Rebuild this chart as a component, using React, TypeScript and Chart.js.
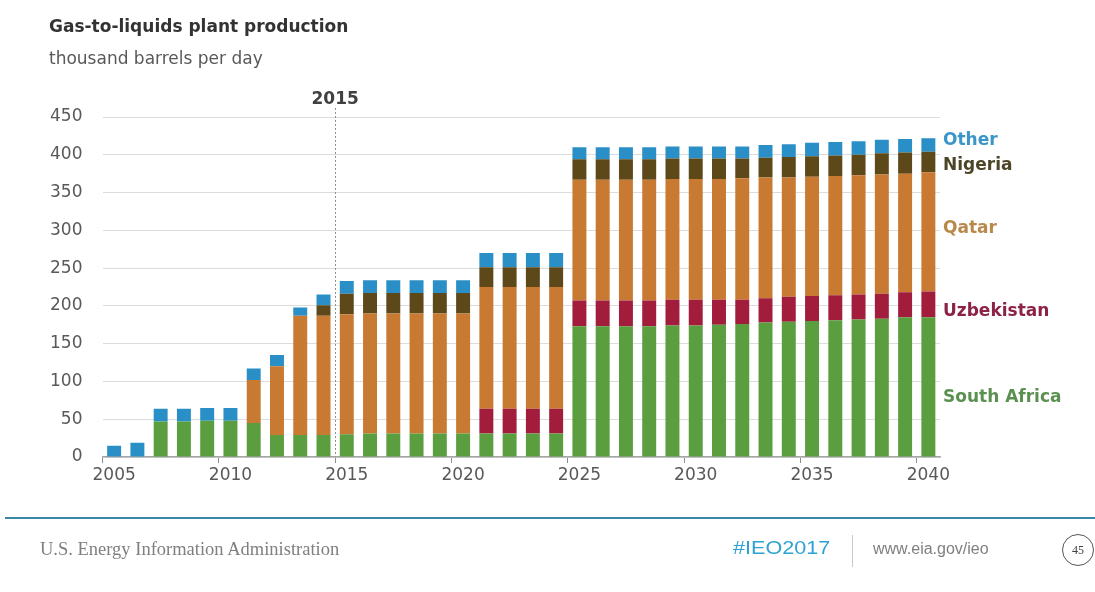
import React, { useEffect, useRef } from "react";
import { Chart, registerables } from "chart.js";

Chart.register(...registerables);

const years = [
  "2005", "2006", "2007", "2008", "2009", "2010", "2011", "2012", "2013", "2014",
  "2015", "2016", "2017", "2018", "2019", "2020", "2021", "2022", "2023", "2024",
  "2025", "2026", "2027", "2028", "2029", "2030", "2031", "2032", "2033", "2034",
  "2035", "2036", "2037", "2038", "2039", "2040",
];

const southAfrica = [
  0, 0, 47, 47, 48, 48, 45, 29, 29, 29, 30, 31, 31, 31, 31, 31, 31, 31, 31, 31,
  173, 173, 173, 173, 174, 174, 175, 176, 178, 179, 180, 181, 182, 183, 185, 185,
];
const uzbekistan = [
  0, 0, 0, 0, 0, 0, 0, 0, 0, 0, 0, 0, 0, 0, 0, 0, 33, 33, 33, 33,
  34, 34, 34, 34, 34, 34, 33, 32, 32, 33, 33, 33, 33, 33, 33, 34,
];
const qatar = [
  0, 0, 0, 0, 0, 0, 57, 91, 158, 158, 159, 159, 159, 159, 159, 159, 161, 161, 161, 161,
  160, 160, 160, 160, 160, 160, 160, 161, 160, 158, 158, 158, 158, 158, 157, 158,
];
const nigeria = [
  0, 0, 0, 0, 0, 0, 0, 0, 0, 14, 27, 27, 27, 27, 27, 27, 26, 26, 26, 26,
  27, 27, 27, 27, 27, 27, 27, 26, 26, 27, 27, 27, 27, 28, 28, 27,
];
const other = [
  15, 19, 17, 17, 17, 17, 15, 15, 11, 14, 17, 17, 17, 17, 17, 17, 19, 19, 19, 19,
  16, 16, 16, 16, 16, 16, 16, 16, 17, 17, 18, 18, 18, 18, 18, 18,
];

const yTicks = [0, 50, 100, 150, 200, 250, 300, 350, 400, 450];
const markerYear = "2015";

const seriesNames = ["South Africa", "Uzbekistan", "Qatar", "Nigeria", "Other"];
const seriesValues = [southAfrica, uzbekistan, qatar, nigeria, other];
const barColors = ["#5a9e3f", "#a11d3b", "#c97a32", "#5c4819", "#2a8fc6"];
const labelColors = ["#5b9150", "#8c2346", "#b8894a", "#4d4528", "#3a96c8"];
// vertical anchor of each right-side label, in data units
const labelAnchors = [79, 192, 302, 386, 419];

const FONT = "'DejaVu Sans', sans-serif";

const annotationPlugin = {
  id: "gtlAnnotations",
  afterDraw(chart: any) {
    const { ctx, chartArea, scales } = chart;
    const xs = scales.x;
    const ys = scales.y;
    const idx = years.indexOf(markerYear);
    const xLine = (xs.getPixelForValue(idx - 1) + xs.getPixelForValue(idx)) / 2;
    ctx.save();
    ctx.strokeStyle = "#8c8c8c";
    ctx.lineWidth = 1;
    ctx.setLineDash([2, 2]);
    ctx.beginPath();
    ctx.moveTo(Math.round(xLine) + 0.5, ys.getPixelForValue(462));
    ctx.lineTo(Math.round(xLine) + 0.5, chartArea.bottom);
    ctx.stroke();
    ctx.setLineDash([]);
    ctx.fillStyle = "#404040";
    ctx.font = `bold 17px ${FONT}`;
    ctx.textAlign = "center";
    ctx.textBaseline = "middle";
    ctx.fillText(markerYear, xLine, ys.getPixelForValue(462) - 8);

    ctx.textAlign = "left";
    ctx.font = `bold 17px ${FONT}`;
    seriesNames.forEach((name, i) => {
      ctx.fillStyle = labelColors[i];
      ctx.fillText(name, chartArea.right + 3, ys.getPixelForValue(labelAnchors[i]));
    });
    ctx.restore();
  },
};

function GtlChart() {
  const ref = useRef<HTMLCanvasElement | null>(null);
  useEffect(() => {
    if (!ref.current) return;
    const chart = new Chart(ref.current, {
      type: "bar",
      data: {
        labels: years,
        datasets: seriesNames.map((name, i) => ({
          label: name,
          data: seriesValues[i],
          backgroundColor: barColors[i],
          borderWidth: 0,
          categoryPercentage: 1,
          barPercentage: 0.6,
        })),
      },
      options: {
        responsive: false,
        animation: false,
        layout: { padding: { left: 0, right: 155, top: 117, bottom: 105 } },
        plugins: {
          legend: { display: false },
          tooltip: { enabled: false },
          title: { display: false },
        },
        scales: {
          x: {
            stacked: true,
            offset: true,
            afterFit: (s: any) => {
              s.height = 30;
            },
            grid: {
              offset: true,
              drawOnChartArea: false,
              drawTicks: true,
              tickLength: 6,
              color: (c: any) => (c.index % 5 === 0 ? "#8c8c8c" : "rgba(0,0,0,0)"),
            },
            border: { display: true, color: "#a6a6a6", width: 1.5 },
            ticks: {
              autoSkip: false,
              maxRotation: 0,
              padding: 2,
              color: "#595959",
              font: { family: FONT, size: 17 },
              callback: (_v: any, i: number) => (i % 5 === 0 ? years[i] : ""),
            },
          },
          y: {
            stacked: true,
            min: 0,
            max: 450,
            afterFit: (s: any) => {
              s.width = 102.5;
            },
            afterBuildTicks: (s: any) => {
              s.ticks = yTicks.map((v) => ({ value: v }));
            },
            grid: { color: "#dcdcdc", lineWidth: 1, drawTicks: false },
            border: { display: false },
            ticks: {
              padding: 20,
              color: "#595959",
              font: { family: FONT, size: 17 },
            },
          },
        },
      },
      plugins: [annotationPlugin],
    });
    return () => chart.destroy();
  }, []);
  return (
    <canvas
      ref={ref}
      width={1095}
      height={592}
      style={{ position: "absolute", left: 0, top: 0, width: 1095, height: 592 }}
    />
  );
}

export default function App() {
  return (
    <div
      style={{
        position: "fixed",
        left: 0,
        top: 0,
        width: 1095,
        height: 592,
        background: "#ffffff",
        overflow: "hidden",
      }}
    >
      <GtlChart />
      <div
        style={{
          position: "absolute",
          left: 49,
          top: 16,
          fontFamily: FONT,
          fontWeight: "bold",
          fontSize: 17,
          color: "#333333",
          whiteSpace: "nowrap",
        }}
      >
        Gas-to-liquids plant production
      </div>
      <div
        style={{
          position: "absolute",
          left: 49,
          top: 48,
          fontFamily: FONT,
          fontSize: 17,
          color: "#595959",
          whiteSpace: "nowrap",
        }}
      >
        thousand barrels per day
      </div>
      <div
        style={{
          position: "absolute",
          left: 5,
          top: 517,
          width: 1090,
          height: 2,
          background: "#3d87a6",
        }}
      />
      <div
        style={{
          position: "absolute",
          left: 40,
          top: 539,
          fontFamily: "'Liberation Serif', serif",
          fontSize: 18.5,
          color: "#7f7f7f",
          whiteSpace: "nowrap",
        }}
      >
        U.S. Energy Information Administration
      </div>
      <div
        style={{
          position: "absolute",
          left: 733,
          top: 538,
          fontFamily: "'Liberation Sans', sans-serif",
          fontSize: 18,
          color: "#2ea3d2",
          whiteSpace: "nowrap",
          transform: "scaleX(1.2)",
          transformOrigin: "left center",
        }}
      >
        #IEO2017
      </div>
      <div
        style={{
          position: "absolute",
          left: 852,
          top: 535,
          width: 1,
          height: 32,
          background: "#c8c8c8",
        }}
      />
      <div
        style={{
          position: "absolute",
          left: 873,
          top: 540,
          fontFamily: "'Liberation Sans', sans-serif",
          fontSize: 16,
          color: "#7f7f7f",
          whiteSpace: "nowrap",
        }}
      >
        www.eia.gov/ieo
      </div>
      <div
        style={{
          position: "absolute",
          left: 1062,
          top: 534,
          width: 32,
          height: 32,
          borderRadius: "50%",
          border: "1.5px solid #555555",
          boxSizing: "border-box",
          display: "flex",
          alignItems: "center",
          justifyContent: "center",
          fontFamily: "'Liberation Serif', serif",
          fontSize: 12,
          color: "#404040",
        }}
      >
        45
      </div>
    </div>
  );
}
